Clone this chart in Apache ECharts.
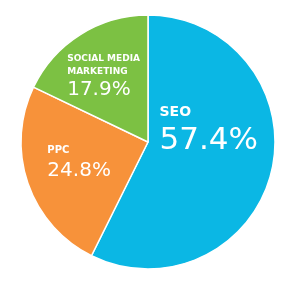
<!DOCTYPE html>
<html>
<head>
<meta charset="utf-8">
<script src="https://cdn.jsdelivr.net/npm/echarts@6/dist/echarts.min.js"></script>
<style>
  html, body { margin: 0; padding: 0; background: #fff; }
  #chart { width: 300px; height: 285px; }
</style>
</head>
<body>
<div id="chart"></div>
<script>
// 数据
var names = ['SEO', 'PPC', 'SOCIAL MEDIA\nMARKETING'];
var values = [57.4, 24.8, 17.9];
var colors = ['#0bb7e4', '#f7923a', '#7cc143'];

// 每块标签的样式
var labelStyle = [
  { offset: [-4, -27], name: 'big', value: 'bigV' },
  { offset: [-6, -1], name: 'small', value: 'midV' },
  { offset: [-9, -9], name: 'tiny', value: 'midV' }
];

var chart = echarts.init(document.getElementById('chart'));

var data = names.map((name, i) => {
  var s = labelStyle[i];
  return {
    name,
    value: values[i],
    itemStyle: { color: colors[i] },
    label: {
      offset: s.offset,
      formatter() {
        var lines = name.split('\n').map(l => `{${s.name}|${l}}`);
        lines.push(`{${s.value}|${values[i].toFixed(1)}%}`);
        return lines.join('\n');
      }
    }
  };
});

var font = 'DejaVu Sans';

chart.setOption({
  animation: false,
  series: [{
    type: 'pie',
    center: [148, 142],
    radius: [0, 127],
    startAngle: 90,
    clockwise: true,
    itemStyle: {
      borderColor: '#fff',
      borderWidth: 1.5
    },
    label: {
      show: true,
      position: 'inside',
      color: '#fff',
      fontFamily: font,
      rich: {
        big: { fontSize: 14, fontWeight: 'bold', lineHeight: 22, align: 'left', color: '#fff', fontFamily: font },
        bigV: { fontSize: 31, lineHeight: 36, align: 'left', color: '#fff', fontFamily: font },
        small: { fontSize: 10, fontWeight: 'bold', lineHeight: 16, align: 'left', color: '#fff', fontFamily: font },
        tiny: { fontSize: 9, fontWeight: 'bold', lineHeight: 13, align: 'left', color: '#fff', fontFamily: font },
        midV: { fontSize: 20, lineHeight: 24, align: 'left', color: '#fff', fontFamily: font }
      }
    },
    labelLine: { show: false },
    data
  }]
});
</script>
</body>
</html>
